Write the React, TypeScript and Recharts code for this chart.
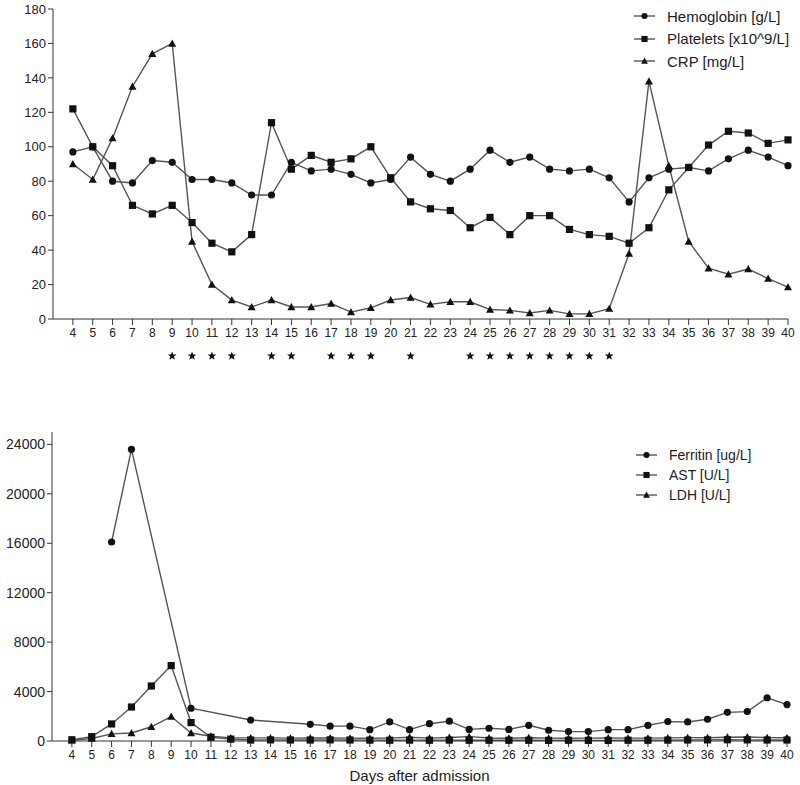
import React from "react";
import { LineChart, Line, XAxis, YAxis } from "recharts";

// days after admission
const days = [
  4, 5, 6, 7, 8, 9, 10, 11, 12, 13, 14, 15, 16, 17, 18, 19, 20, 21, 22,
  23, 24, 25, 26, 27, 28, 29, 30, 31, 32, 33, 34, 35, 36, 37, 38, 39, 40,
];

const hemoglobin = [
  97, 100, 80, 79, 92, 91, 81, 81, 79, 72,
  72, 91, 86, 87, 84, 79, 81, 94, 84, 80,
  87, 98, 91, 94, 87, 86, 87, 82, 68, 82,
  87, 88, 86, 93, 98, 94, 89,
];
const platelets = [
  122, 100, 89, 66, 61, 66, 56, 44, 39, 49,
  114, 87, 95, 91, 93, 100, 82, 68, 64, 63,
  53, 59, 49, 60, 60, 52, 49, 48, 44, 53,
  75, 88, 101, 109, 108, 102, 104,
];
const crp = [
  90, 81, 105, 135, 154, 160, 45, 20, 11, 7,
  11, 7, 7, 9, 4, 6.5, 11, 12.5, 8.5, 10,
  10, 5.5, 5, 3.5, 5, 3, 3, 6, 38, 138,
  89, 45, 29.5, 26, 29, 23.5, 18.5,
];

const ferritin = [
  null, null, 16100, 23600, null, null, 2650, null, null, 1700,
  null, null, 1350, 1200, 1200, 920, 1540, 920, 1400, 1600,
  940, 1030, 940, 1270, 870, 760, 760, 920, 920, 1270,
  1570, 1540, 1760, 2320, 2380, 3500, 2950,
];
const ast = [
  100, 350, 1380, 2750, 4450, 6100, 1490, 300, 150, 80,
  90, 80, 80, 90, 80, 70, 60, 70, 60, 70,
  60, 60, 60, 60, 50, 60, 50, 50, 60, 60,
  70, 80, 90, 100, 90, 80, 80,
];
const ldh = [
  50, 200, 580, 650, 1150, 1980, 650, 380, 250, 250,
  250, 230, 240, 240, 230, 220, 230, 300, 230, 280,
  350, 240, 220, 260, 230, 220, 230, 240, 230, 230,
  250, 270, 260, 300, 320, 270, 260,
];

// days marked with an asterisk under the upper axis
const starDays = [9, 10, 11, 12, 14, 15, 17, 18, 19, 21, 24, 25, 26, 27, 28, 29, 30, 31];

const topTicks = [0, 20, 40, 60, 80, 100, 120, 140, 160, 180];
const bottomTicks = [0, 4000, 8000, 12000, 16000, 20000, 24000];

const topLegend = [
  { kind: "circle", label: "Hemoglobin [g/L]" },
  { kind: "square", label: "Platelets [x10^9/L]" },
  { kind: "triangle", label: "CRP [mg/L]" },
];
const bottomLegend = [
  { kind: "circle", label: "Ferritin [ug/L]" },
  { kind: "square", label: "AST [U/L]" },
  { kind: "triangle", label: "LDH [U/L]" },
];

const topRows = days.map((day, i) => ({
  day,
  hb: hemoglobin[i],
  plt: platelets[i],
  crp: crp[i],
}));
const bottomRows = days.map((day, i) => ({
  day,
  ferritin: ferritin[i],
  ast: ast[i],
  ldh: ldh[i],
}));

const FONT = "'Liberation Sans', Arial, Helvetica, sans-serif";
const LINE = "#555";
const MARK = "#111";
const AXIS = "#333";

function Marker({ kind, cx, cy, s = 1 }: { kind: string; cx: number; cy: number; s?: number }) {
  if (kind === "circle") return <circle cx={cx} cy={cy} r={3.6 * s} fill={MARK} />;
  if (kind === "square")
    return <rect x={cx - 3.6 * s} y={cy - 3.6 * s} width={7.2 * s} height={7.2 * s} fill={MARK} />;
  const h = 4 * s;
  return (
    <path
      d={`M${cx},${cy - h} L${cx + h},${cy + h * 0.8} L${cx - h},${cy + h * 0.8} Z`}
      fill={MARK}
    />
  );
}

const makeDot = (kind: string) => (p: any) => {
  const key = `${kind}-${p.index}`;
  if (p.cx == null || p.cy == null || p.value == null) return <g key={key} />;
  return (
    <g key={key}>
      <Marker kind={kind} cx={p.cx} cy={p.cy} />
    </g>
  );
};

function starPath(cx: number, cy: number, r: number) {
  const pts: string[] = [];
  for (let k = 0; k < 10; k++) {
    const rad = k % 2 === 0 ? r : r * 0.42;
    const a = -Math.PI / 2 + (k * Math.PI) / 5;
    pts.push(`${cx + rad * Math.cos(a)},${cy + rad * Math.sin(a)}`);
  }
  return `M${pts.join("L")}Z`;
}

function DayTick(props: any) {
  const { x, y, payload, stars } = props;
  const starred = stars && starDays.includes(payload.value);
  return (
    <g>
      <text x={x} y={y} dy={10} textAnchor="middle" fontSize={12} fill="#222" fontFamily={FONT}>
        {payload.value}
      </text>
      {starred && <path d={starPath(x, y + 29, 4.6)} fill={MARK} />}
    </g>
  );
}

function LegendBox({ items, fontSize, rowH, left, top }: any) {
  return (
    <div style={{ position: "absolute", left, top, fontFamily: FONT }}>
      {items.map((item: any) => (
        <div
          key={item.label}
          style={{ display: "flex", alignItems: "center", height: rowH, fontSize, color: "#222" }}
        >
          <svg width={22} height={12} style={{ marginRight: 11 }}>
            <line x1={0} y1={6} x2={21} y2={6} stroke={LINE} strokeWidth={1.4} />
            <Marker kind={item.kind} cx={10.5} cy={6} s={0.85} />
          </svg>
          <span>{item.label}</span>
        </div>
      ))}
    </div>
  );
}

export default function App() {
  return (
    <div
      style={{
        position: "absolute",
        left: 0,
        top: 0,
        width: 800,
        height: 785,
        background: "#fff",
        fontFamily: FONT,
      }}
    >
      <div style={{ position: "absolute", left: 0, top: 0 }}>
        <LineChart width={800} height={360} data={topRows} margin={{ top: 9, right: 12, bottom: 11, left: 0 }}>
          <XAxis
            dataKey="day"
            type="number"
            domain={[3, 40]}
            ticks={days}
            height={30}
            tickSize={6}
            tickMargin={2}
            stroke={AXIS}
            tick={<DayTick stars />}
            interval={0}
          />
          <YAxis
            type="number"
            domain={[0, 180]}
            ticks={topTicks}
            width={53}
            tickSize={5}
            tickMargin={2}
            stroke={AXIS}
            tick={{ fontSize: 13, fill: "#222", fontFamily: FONT }}
            interval={0}
          />
          <Line dataKey="hb" name="Hemoglobin [g/L]" stroke={LINE} strokeWidth={1.4}
            dot={makeDot("circle")} activeDot={false} isAnimationActive={false} />
          <Line dataKey="plt" name="Platelets [x10^9/L]" stroke={LINE} strokeWidth={1.4}
            dot={makeDot("square")} activeDot={false} isAnimationActive={false} />
          <Line dataKey="crp" name="CRP [mg/L]" stroke={LINE} strokeWidth={1.4}
            dot={makeDot("triangle")} activeDot={false} isAnimationActive={false} />
        </LineChart>
        <LegendBox items={topLegend} fontSize={15} rowH={22.5} left={634} top={5} />
      </div>

      <div style={{ position: "absolute", left: 0, top: 420 }}>
        <LineChart width={800} height={365} data={bottomRows} margin={{ top: 12, right: 13, bottom: 0, left: 0 }}>
          <XAxis
            dataKey="day"
            type="number"
            domain={[3, 40]}
            ticks={days}
            height={44}
            tickSize={6}
            tickMargin={2}
            stroke={AXIS}
            tick={<DayTick />}
            interval={0}
            label={{ value: "Days after admission", position: "insideBottom", offset: 4, fontSize: 15, fill: "#222", fontFamily: FONT }}
          />
          <YAxis
            type="number"
            domain={[0, 25000]}
            ticks={bottomTicks}
            width={52}
            tickSize={5}
            tickMargin={2}
            stroke={AXIS}
            tick={{ fontSize: 14, fill: "#222", fontFamily: FONT }}
            interval={0}
          />
          <Line dataKey="ferritin" name="Ferritin [ug/L]" stroke={LINE} strokeWidth={1.4} connectNulls
            dot={makeDot("circle")} activeDot={false} isAnimationActive={false} />
          <Line dataKey="ast" name="AST [U/L]" stroke={LINE} strokeWidth={1.4}
            dot={makeDot("square")} activeDot={false} isAnimationActive={false} />
          <Line dataKey="ldh" name="LDH [U/L]" stroke={LINE} strokeWidth={1.4}
            dot={makeDot("triangle")} activeDot={false} isAnimationActive={false} />
        </LineChart>
        <LegendBox items={bottomLegend} fontSize={14} rowH={20} left={636} top={25} />
      </div>
    </div>
  );
}
